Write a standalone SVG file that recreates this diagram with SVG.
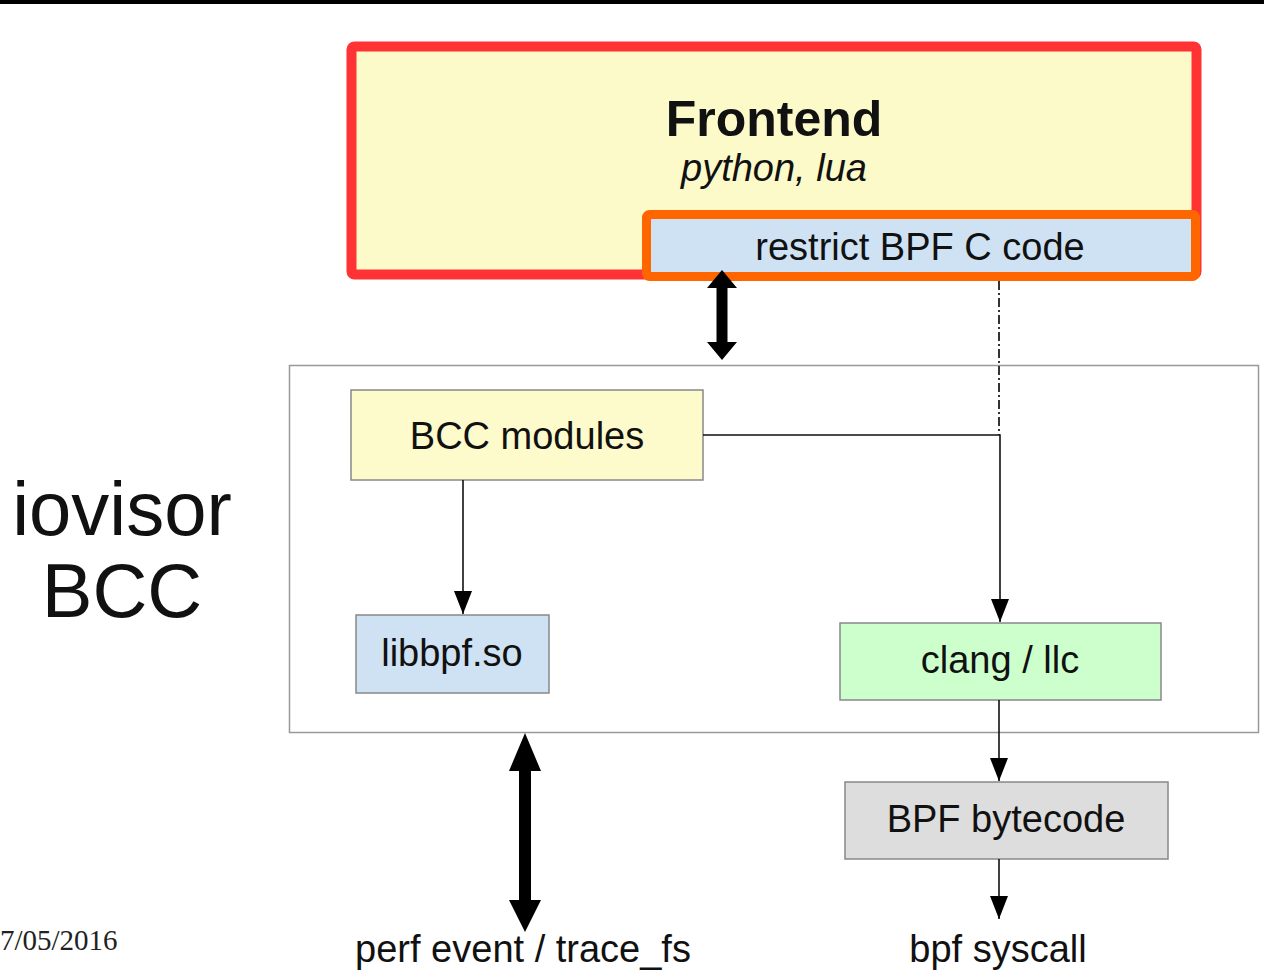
<svg xmlns="http://www.w3.org/2000/svg" width="1264" height="977" viewBox="0 0 1264 977">
<style>
.t{font-family:"Liberation Sans",Arial,sans-serif;fill:#111;text-anchor:middle}
.box{stroke:#888;stroke-width:1.5}
.ln{stroke:#111;stroke-width:1.6;fill:none}
.big{fill:#000}
</style>
<defs>
<marker id="ah" markerUnits="userSpaceOnUse" markerWidth="26" markerHeight="20" refX="23" refY="9" orient="auto">
<path d="M0,0 L23,9 L0,18 Z" fill="#000"/>
</marker>
</defs>
<rect x="0" y="0" width="1264" height="977" fill="#fff"/>
<rect x="0" y="0" width="1264" height="4" fill="#000"/>

<g id="frontend">
<rect x="351.5" y="46.5" width="845" height="228" rx="3" fill="#fdfac9" stroke="#ff3333" stroke-width="10"/>
<text class="t" x="774" y="136" font-size="50" font-weight="bold">Frontend</text>
<text class="t" x="774" y="181" font-size="38" font-style="italic">python, lua</text>
</g>

<g id="restrict">
<rect x="646.5" y="214.5" width="549" height="62" rx="3" fill="#cfe2f3" stroke="#ff6600" stroke-width="9"/>
<text class="t" x="920" y="260" font-size="38">restrict BPF C code</text>
</g>

<g id="container">
<rect x="289.5" y="365.5" width="969" height="367" fill="#fff" stroke="#999" stroke-width="1.5"/>
</g>

<g id="iovisor">
<text class="t" x="122" y="535" font-size="76">iovisor</text>
<text class="t" x="122" y="617" font-size="76">BCC</text>
</g>

<g id="date">
<text x="0" y="950" font-family="'Liberation Serif','Times New Roman',serif" font-size="29" fill="#222">7/05/2016</text>
</g>

<g id="bccmodules">
<rect class="box" x="351" y="390" width="352" height="90" fill="#fdfacb"/>
<text class="t" x="527" y="449" font-size="38">BCC modules</text>
</g>

<g id="libbpf">
<rect class="box" x="356" y="615" width="193" height="78" fill="#cfe2f3"/>
<text class="t" x="452" y="666" font-size="38">libbpf.so</text>
</g>

<g id="clang">
<rect class="box" x="840" y="623" width="321" height="77" fill="#ccffcc"/>
<text class="t" x="1000" y="673" font-size="38">clang / llc</text>
</g>

<g id="bytecode">
<rect class="box" x="845" y="782" width="323" height="77" fill="#dddddd"/>
<text class="t" x="1006" y="832" font-size="38">BPF bytecode</text>
</g>

<g id="perf">
<text class="t" x="523" y="962" font-size="38">perf event / trace_fs</text>
</g>

<g id="syscall">
<text class="t" x="998" y="962" font-size="38">bpf syscall</text>
</g>

<g id="connectors">
<line x1="999" y1="281" x2="999" y2="435" stroke="#333" stroke-width="2" stroke-dasharray="9,3,2,3"/>
<polyline class="ln" points="703,435 1000,435 1000,622" marker-end="url(#ah)"/>
<line class="ln" x1="463" y1="480" x2="463" y2="614" marker-end="url(#ah)"/>
<line class="ln" x1="999" y1="700" x2="999" y2="781" marker-end="url(#ah)"/>
<line class="ln" x1="999" y1="859" x2="999" y2="919" marker-end="url(#ah)"/>
<path class="big" d="M722,270 L737,288 L727.5,288 L727.5,342 L737,342 L722,360 L707,342 L716.5,342 L716.5,288 L707,288 Z"/>
<path class="big" d="M525,733 L541,771 L531,771 L531,900 L541,900 L525,932 L509,900 L519,900 L519,771 L509,771 Z"/>
</g>
</svg>
